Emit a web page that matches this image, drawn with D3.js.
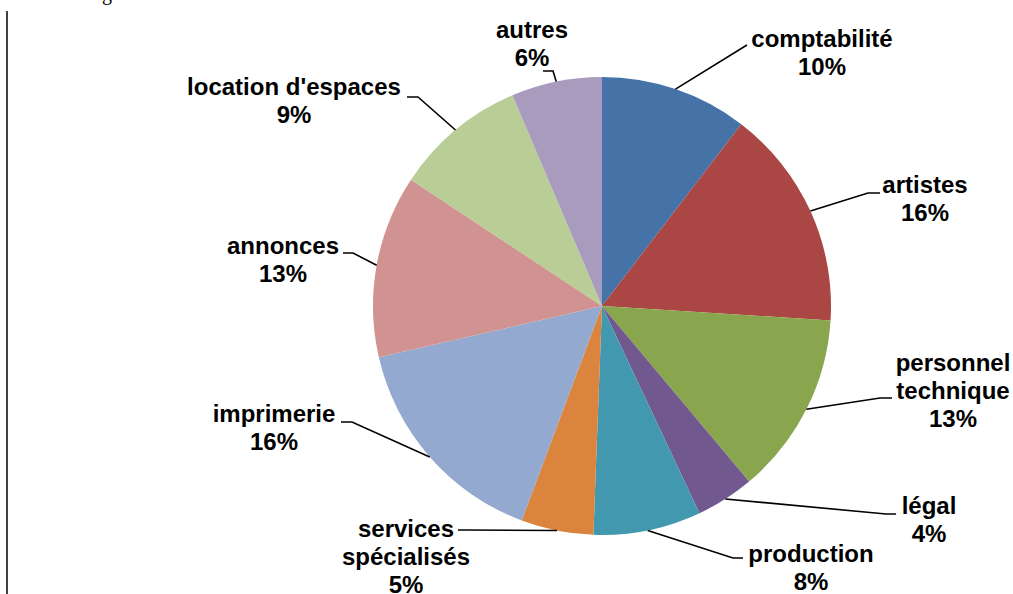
<!DOCTYPE html>
<html><head><meta charset="utf-8">
<script src="https://cdn.jsdelivr.net/npm/d3@7"></script>
<style>html,body{margin:0;padding:0;background:#fff;}svg{display:block;}</style>
</head><body>
<svg id="c" width="1013" height="594"></svg>
<script>
// ---- data ----
const categories = ["comptabilité","artistes","personnel technique","légal","production","services spécialisés","imprimerie","annonces","location d'espaces","autres"];
const values = [10.4, 15.6, 12.9, 4.1, 7.6, 5.1, 15.7, 12.9, 9.3, 6.4];
const labelLines = [["comptabilité"],["artistes"],["personnel","technique"],["légal"],["production"],["services","spécialisés"],["imprimerie"],["annonces"],["location d'espaces"],["autres"]];
const colors = ["#4572A7","#AA4643","#89A54E","#71588F","#4198AF","#DB843D","#93A9CF","#D19392","#B9CD96","#A99BBD"];

// ---- layout (label anchors: centre x, first baseline y; leader points text-side -> elbow) ----
const labelLayout = [
  {x:822, y:47,  pts:[[747,45]]},
  {x:925, y:193, pts:[[880,193],[868,193]]},
  {x:953, y:371, pts:[[892,398],[880,398]]},
  {x:929, y:514, pts:[[896,514],[886,514]]},
  {x:811, y:562, pts:[[743,558],[733,558]]},
  {x:406, y:537, pts:[[458,530],[468,530]]},
  {x:274, y:422, pts:[[341,422],[352,422]]},
  {x:283, y:254, pts:[[343,253],[353,253]]},
  {x:294, y:95,  pts:[[407,97],[418,97]]},
  {x:532, y:38,  pts:[[543,71],[553,71]]}
];
const cx = 602, cy = 306, R = 229, lineH = 27.8;

const svg = d3.select("#c");
// left border line and clipped text fragment
svg.append("line").attr("x1",7).attr("x2",7).attr("y1",11).attr("y2",594).attr("stroke","#000").attr("stroke-width",1.5);
svg.append("text").attr("x",102).attr("y",0).attr("font-family","Liberation Serif").attr("font-size",20).text("g");

const total = d3.sum(values);
const pie = d3.pie().sort(null).value(d=>d)(values);
const arc = d3.arc().innerRadius(0).outerRadius(R);
const g = svg.append("g").attr("transform",`translate(${cx},${cy})`);
g.selectAll("path").data(pie).join("path").attr("d",arc).attr("fill",(d,i)=>colors[i]);

// leader lines
pie.forEach((d,i)=>{
  const a = (d.startAngle+d.endAngle)/2;
  const edge = [cx+R*Math.sin(a), cy-R*Math.cos(a)];
  const pts = labelLayout[i].pts.concat([edge]);
  svg.append("path").attr("d", d3.line()(pts)).attr("fill","none").attr("stroke","#000").attr("stroke-width",1.6);
});

// labels
categories.forEach((c,i)=>{
  const L = labelLayout[i];
  const lines = labelLines[i].concat([Math.round(values[i]/total*100)+"%"]);
  const t = svg.append("text").attr("text-anchor","middle").attr("font-family","Liberation Sans, Arial, sans-serif")
    .attr("font-weight","bold").attr("font-size",24).attr("fill","#000");
  lines.forEach((s,k)=>t.append("tspan").attr("x",L.x).attr("y",L.y+k*lineH).text(s));
});
</script>
</body></html>
